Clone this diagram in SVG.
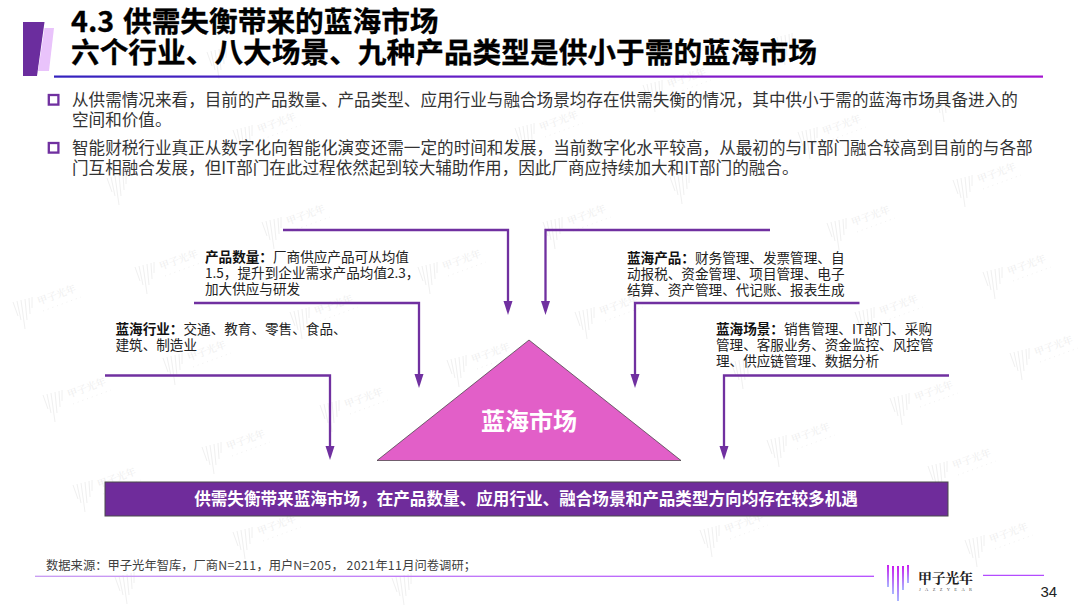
<svg xmlns="http://www.w3.org/2000/svg" width="1080" height="609" viewBox="0 0 1080 609">
<style>
text{font-family:"Noto Sans CJK SC","Noto Sans",sans-serif}
.title{font-size:28.7px;font-weight:700;fill:#000;stroke:#000;stroke-width:.3}
.body{font-size:16.6px;fill:#333}
.label{font-size:13.6px;fill:#222}
.label .b{font-weight:700;fill:#111}
.conn{fill:none;stroke:#7030A0;stroke-width:2.3;marker-end:url(#arrow)}
.bullet{fill:#fff;stroke:#7030A0;stroke-width:2.3}
.wm line{stroke:#f0f0f0;stroke-width:1}
.wm text{font-family:"Noto Serif CJK SC","Noto Sans CJK SC",serif;font-size:10px;fill:#ededed}
.wm path{stroke:#f2f2f2;stroke-width:1;stroke-dasharray:1 4;fill:none}
.lat{letter-spacing:.4px}
</style>
<defs>
<marker id="arrow" markerUnits="userSpaceOnUse" markerWidth="15" markerHeight="10" refX="2" refY="4.5" orient="auto"><path d="M0 0L14 4.500L0 9Z" fill="#7030A0"/></marker>
<linearGradient id="rule" x1="0" x2="1" y1="0" y2="0"><stop offset="0" stop-color="#3322BE"/><stop offset="0.6" stop-color="#7A1CC8"/><stop offset="1" stop-color="#A414D0"/></linearGradient>
<linearGradient id="foot" gradientUnits="userSpaceOnUse" x1="35" x2="874" y1="0" y2="0"><stop offset="0" stop-color="#C79AF2"/><stop offset="1" stop-color="#B44CFF"/></linearGradient>
<linearGradient id="bar" x1="0" x2="0" y1="0" y2="1"><stop offset="0" stop-color="#C81EF0"/><stop offset="1" stop-color="#A9B6FF"/></linearGradient>
<g id="wmb" class="wm">
<line x1="0" y1="0" x2="5" y2="14"/><line x1="4" y1="-1" x2="8" y2="18"/><line x1="8" y1="-2" x2="12" y2="27"/><line x1="12" y1="-3" x2="14" y2="18"/><line x1="16" y1="-4" x2="17" y2="12"/><line x1="19" y1="-5" x2="19" y2="6"/>
</g>
<g id="wm" class="wm">
<use href="#wmb"/>
<text transform="translate(26 3) rotate(-20)" textLength="40">甲子光年</text>
<path d="M30 9L68 -5"/>
</g>
</defs>
<rect width="1080" height="609" fill="#fff"/>
<g id="watermarks">
<use href="#wmb" x="207" y="52"/><use href="#wm" x="233" y="130"/><use href="#wmb" x="107" y="178"/>
<use href="#wm" x="13" y="302"/><use href="#wm" x="135" y="267"/><use href="#wm" x="262" y="222"/>
<use href="#wm" x="418" y="267"/><use href="#wm" x="290" y="312"/><use href="#wm" x="163" y="358"/>
<use href="#wm" x="447" y="360"/><use href="#wm" x="320" y="405"/><use href="#wm" x="202" y="447"/>
<use href="#wm" x="543" y="222"/><use href="#wm" x="827" y="223"/><use href="#wm" x="575" y="312"/>
<use href="#wm" x="855" y="312"/><use href="#wmb" x="731" y="362"/><use href="#wm" x="890" y="398"/>
<use href="#wm" x="767" y="440"/><use href="#wm" x="928" y="466"/><use href="#wm" x="43" y="395"/>
<use href="#wm" x="73" y="485"/><use href="#wm" x="233" y="532"/><use href="#wmb" x="115" y="577"/>
<use href="#wm" x="515" y="128"/><use href="#wm" x="643" y="85"/><use href="#wm" x="798" y="132"/>
<use href="#wm" x="953" y="180"/><use href="#wmb" x="932" y="95"/><use href="#wmb" x="773" y="38"/>
<use href="#wmb" x="670" y="177"/><use href="#wm" x="983" y="272"/><use href="#wm" x="1010" y="353"/>
<use href="#wm" x="965" y="540"/><use href="#wmb" x="392" y="578"/><use href="#wm" x="700" y="530"/>
</g>
<g id="header">
<path d="M23 22H44.500L37 76H23Z" fill="#6B2D9E"/>
<path d="M44.500 28H54L49 71H38Z" fill="#E9C3FB"/>
<rect x="54" y="75.500" width="989" height="2.200" fill="url(#rule)"/>
<text class="title" x="71" y="32">4.3<tspan x="123">供需失衡带来的蓝海市场</tspan></text>
<text class="title" x="71" y="63">六个行业、八大场景、九种产品类型是供小于需的蓝海市场</text>
</g>
<g id="bullets">
<rect class="bullet" x="48.800" y="95" width="9.600" height="9.600"/>
<text class="body" x="72" y="106">从供需情况来看，目前的产品数量、产品类型、应用行业与融合场景均存在供需失衡的情况，其中供小于需的蓝海市场具备进入的</text>
<text class="body" x="72" y="126">空间和价值。</text>
<rect class="bullet" x="48.800" y="143" width="9.600" height="9.600"/>
<text class="body" x="72" y="154">智能财税行业真正从数字化向智能化演变还需一定的时间和发展，当前数字化水平较高，从最初的与IT部门融合较高到目前的与各部</text>
<text class="body" x="72" y="174">门互相融合发展，但IT部门在此过程依然起到较大辅助作用，因此厂商应持续加大和IT部门的融合。</text>
</g>
<g id="connectors">
<path class="conn" d="M283 230H508V303"/>
<path class="conn" d="M194 303H419V376"/>
<path class="conn" d="M105 375.500H330V448"/>
<path class="conn" d="M770 230H545.500V303"/>
<path class="conn" d="M859.500 303H635V376"/>
<path class="conn" d="M949 375.500H724V448"/>
</g>
<g id="label-product-count">
<text class="label" x="205" y="262"><tspan class="b">产品数量：</tspan>厂商供应产品可从均值</text>
<text class="label" x="205" y="278">1.5，提升到企业需求产品均值2.3，</text>
<text class="label" x="205" y="294">加大供应与研发</text>
</g>
<g id="label-industry">
<text class="label" x="115.500" y="334"><tspan class="b">蓝海行业：</tspan>交通、教育、零售、食品、</text>
<text class="label" x="115.500" y="350">建筑、制造业</text>
</g>
<g id="label-product">
<text class="label" x="627" y="263"><tspan class="b">蓝海产品：</tspan>财务管理、发票管理、自</text>
<text class="label" x="627" y="279">动报税、资金管理、项目管理、电子</text>
<text class="label" x="627" y="295">结算、资产管理、代记账、报表生成</text>
</g>
<g id="label-scene">
<text class="label" x="716" y="334"><tspan class="b">蓝海场景：</tspan>销售管理、IT部门、采购</text>
<text class="label" x="716" y="350">管理、客服业务、资金监控、风控管</text>
<text class="label" x="716" y="366">理、供应链管理、数据分析</text>
</g>
<g id="node-market">
<path d="M529 340L681 460.500H377Z" fill="#E25FC8" stroke="#3a3a3a" stroke-width="0.700"/>
<text x="529" y="430" text-anchor="middle" font-size="24" font-weight="700" fill="#fff">蓝海市场</text>
</g>
<g id="node-banner">
<rect x="105" y="482" width="843" height="34" fill="#6F2C9B" stroke="#4a4a4a" stroke-width="1"/>
<text x="526" y="505" text-anchor="middle" font-size="16.600" font-weight="700" fill="#fff">供需失衡带来蓝海市场，在产品数量、应用行业、融合场景和产品类型方向均存在较多机遇</text>
</g>
<g id="footer">
<text x="46" y="569.500" font-size="12.300" fill="#404040">数据来源：甲子光年智库，厂商<tspan class="lat">N=211</tspan>，用户<tspan class="lat">N=205</tspan>， <tspan class="lat">2021</tspan>年<tspan class="lat">11</tspan>月问卷调研；</text>
<rect x="35" y="575.650" width="839" height="1.300" fill="url(#foot)"/>
<path d="M983 575.300H1044" stroke="#B44CFF" stroke-width="1.200" fill="none"/>
<g fill="url(#bar)">
<rect x="887" y="565" width="2" height="22"/><rect x="892" y="566" width="2" height="28"/><rect x="897" y="566" width="2" height="35"/><rect x="902" y="566" width="2" height="24"/><rect x="907" y="565" width="2" height="18"/>
</g>
<text x="918" y="583" font-size="14" font-weight="700" fill="#222" textLength="55" style="font-family:'Noto Serif CJK SC','Noto Sans CJK SC',serif">甲子光年</text>
<text x="919" y="591" font-size="4.500" fill="#555" textLength="53" style="font-family:'Liberation Serif',serif">JAZZYEAR</text>
<text x="1040.500" y="597" font-size="15" fill="#222" style="font-family:'Liberation Sans',sans-serif">34</text>
</g>
</svg>
